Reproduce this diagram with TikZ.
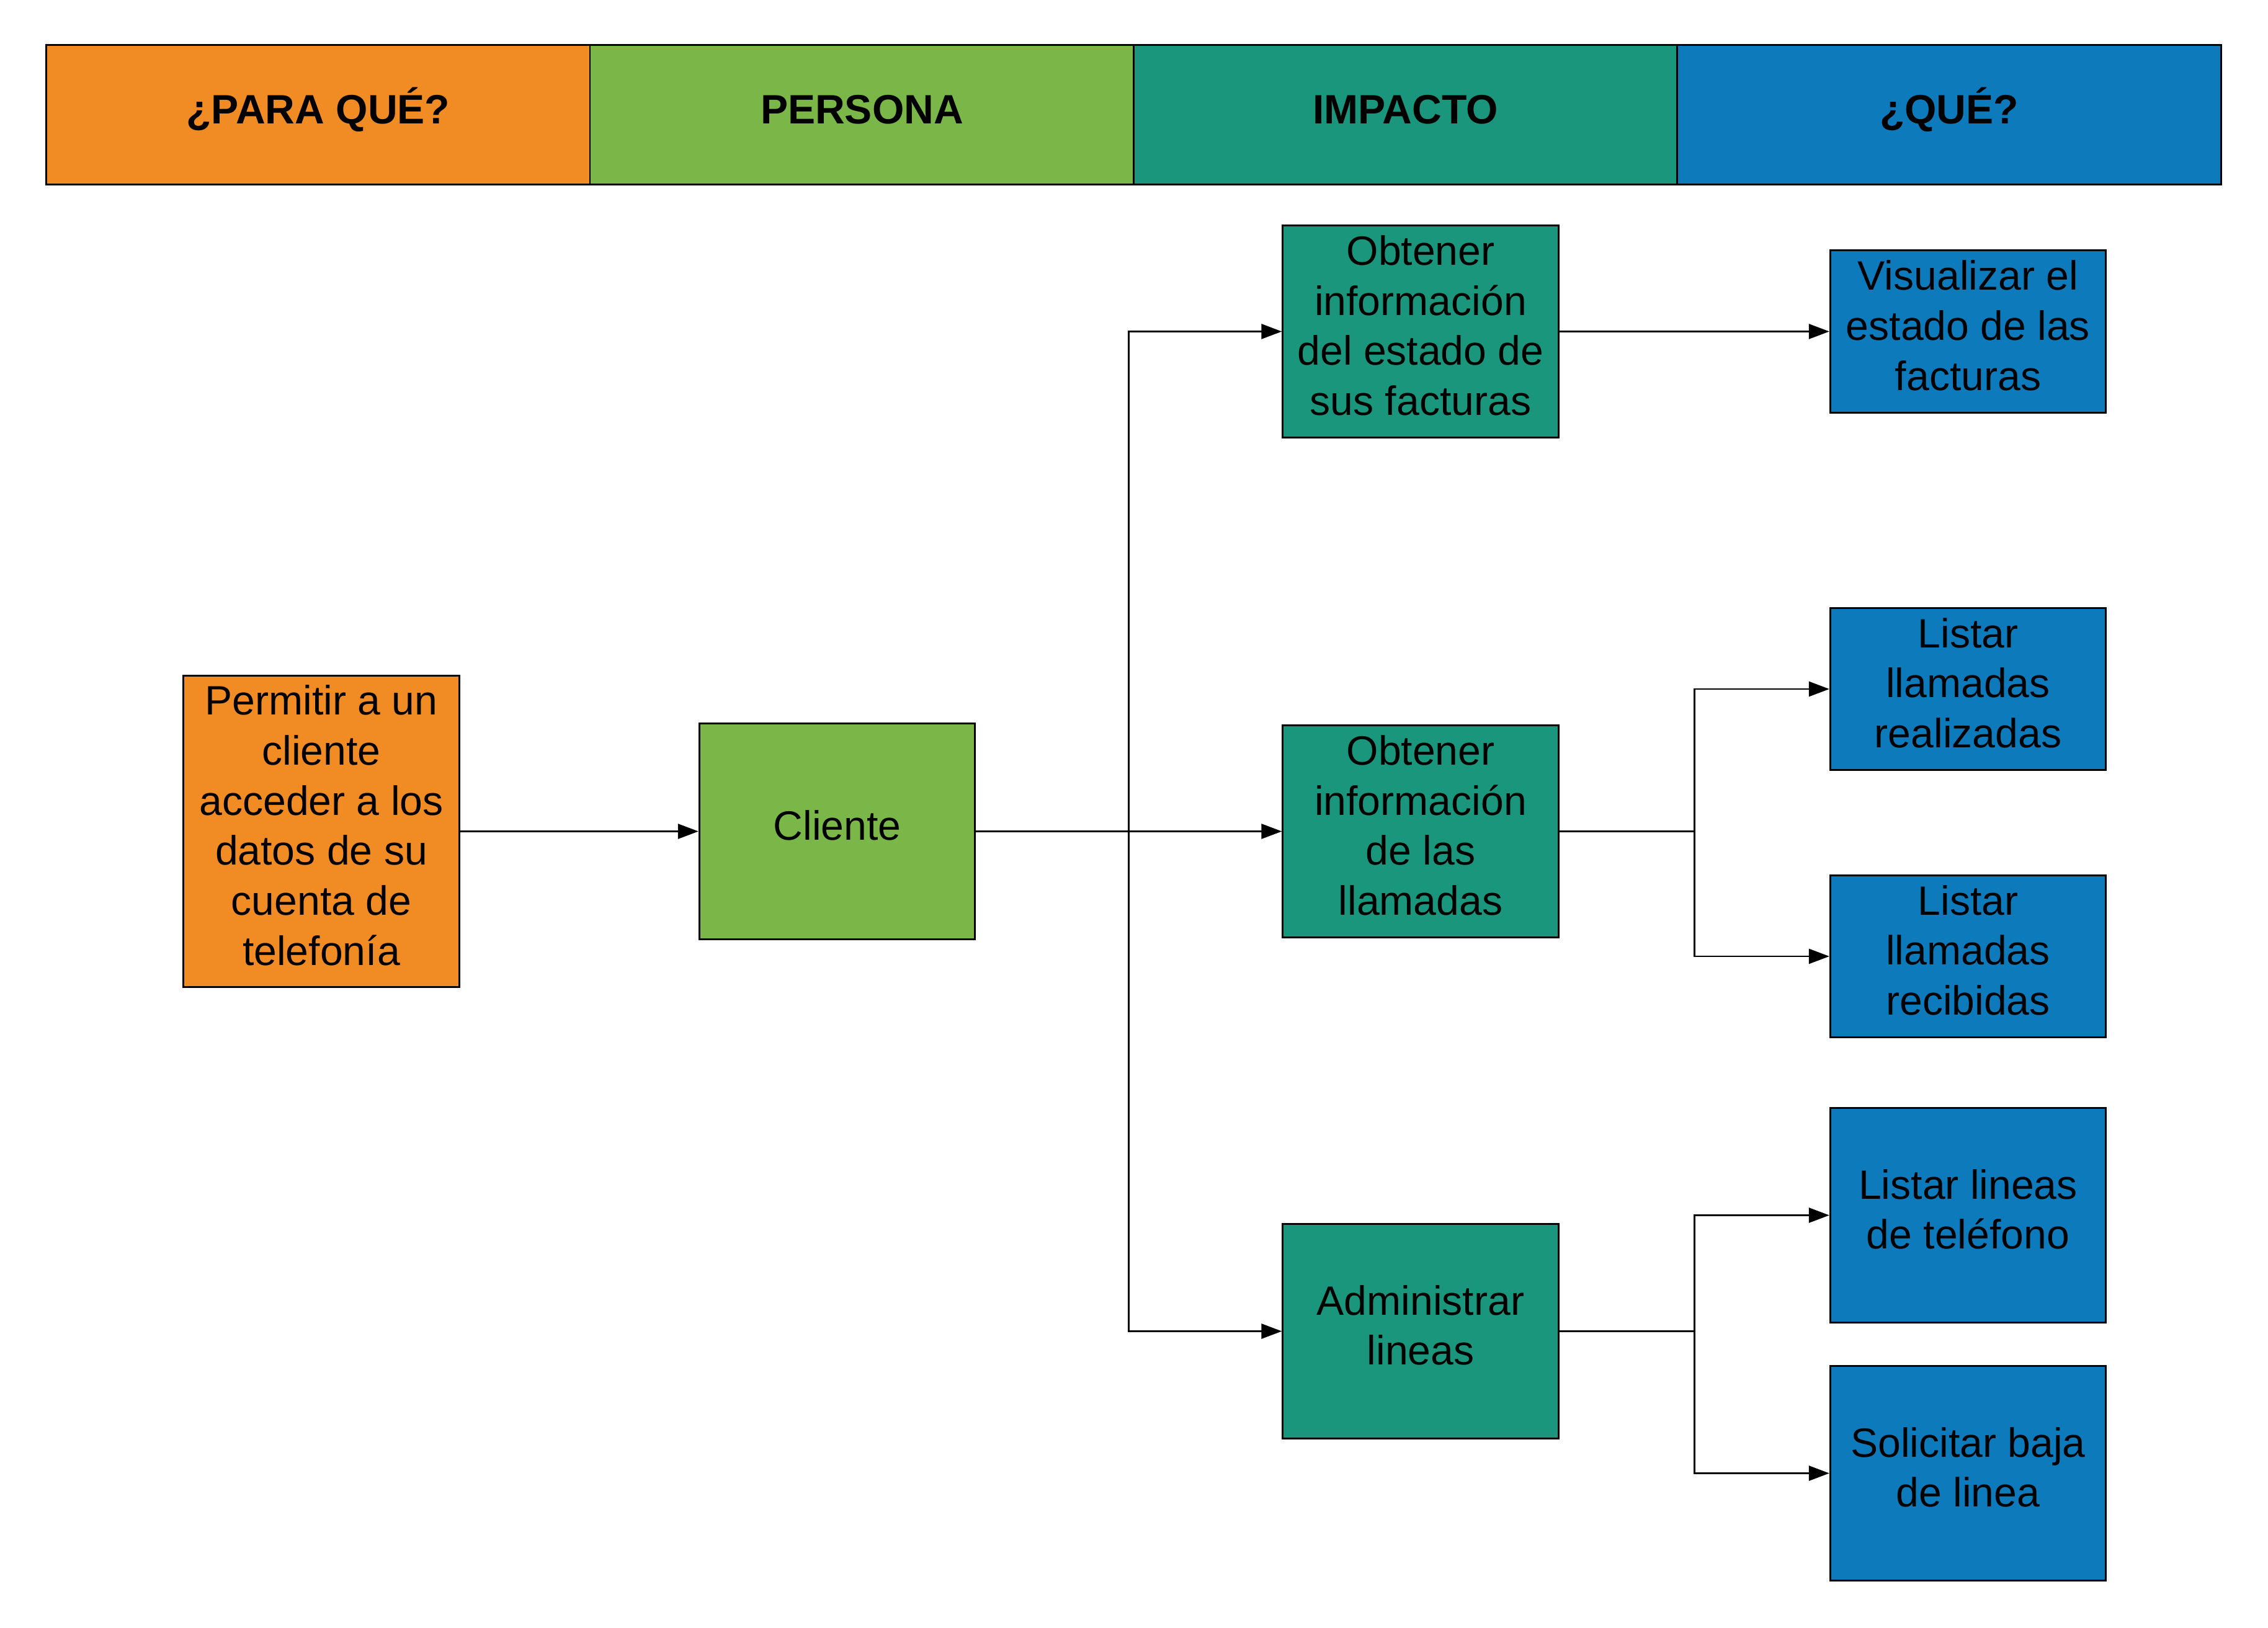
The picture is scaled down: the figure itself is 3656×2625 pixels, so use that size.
\documentclass[tikz,border=0pt]{standalone}
\usepackage{fontspec}
\setmainfont{Liberation Sans}
\usetikzlibrary{arrows.meta}
\definecolor{corange}{RGB}{240,140,35}
\definecolor{cgreen}{RGB}{122,182,72}
\definecolor{cteal}{RGB}{26,150,125}
\definecolor{cblue}{RGB}{13,123,187}
\begin{document}
\begin{tikzpicture}[x=0.01cm,y=-0.01cm,
  box/.style={draw=black, line width=0.85pt, align=center, inner sep=0pt, minimum width=4.44cm, text depth=0.2cm, font=\fontsize{18.8pt}{22.96pt}\selectfont},
  hdr/.style={draw=black, line width=0.85pt, minimum width=8.765cm, minimum height=2.24cm, inner sep=0pt, text height=0.46cm, text depth=0.16cm, font=\fontsize{18.8pt}{22.96pt}\selectfont\bfseries},
  conn/.style={line width=0.85pt},
  arr/.style={conn, -{Triangle[length=3.3mm,width=2.4mm]}}]
\useasboundingbox[fill=white] (0,0) rectangle (3656,2625);
% header
\node[hdr, fill=corange] (h1) at (513,185) {¿PARA QUÉ?};
\node[hdr, fill=cgreen] (h2) at (1389.5,185) {PERSONA};
\node[hdr, fill=cteal] (h3) at (2265.5,185) {IMPACTO};
\node[hdr, fill=cblue] (h4) at (3142,185) {¿QUÉ?};
% boxes
\node[box, fill=corange, minimum height=5.02cm] (o) at (518,1340.5) {Permitir a un\\cliente\\acceder a los\\datos de su\\cuenta de\\telefonía};
\node[box, fill=cgreen, minimum height=3.47cm] (c) at (1349.5,1340.5) {Cliente};
\node[box, fill=cteal, minimum height=3.42cm] (t1) at (2290,534.5) {Obtener\\información\\del estado de\\sus facturas};
\node[box, fill=cteal, minimum height=3.42cm] (t2) at (2290,1340.5) {Obtener\\información\\de las\\llamadas};
\node[box, fill=cteal, minimum height=3.45cm] (t3) at (2290,2146.5) {Administrar\\lineas};
\node[box, fill=cblue, minimum height=2.61cm] (b1) at (3172.5,534.5) {Visualizar el\\estado de las\\facturas};
\node[box, fill=cblue, minimum height=2.60cm] (b2) at (3172.5,1111) {Listar\\llamadas\\realizadas};
\node[box, fill=cblue, minimum height=2.60cm] (b3) at (3172.5,1542) {Listar\\llamadas\\recibidas};
\node[box, fill=cblue, minimum height=3.45cm] (b4) at (3172.5,1959.5) {Listar lineas\\de teléfono};
\node[box, fill=cblue, minimum height=3.45cm] (b5) at (3172.5,2375.5) {Solicitar baja\\de linea};
% connectors
\coordinate (j) at (1819,1340.5);
\coordinate (k2) at (2731,1340.5);
\coordinate (k3) at (2731,2146.5);
\draw[arr] (o.east) -- (c.west);
\draw[arr] (c.east) -- (t2.west);
\draw[arr] (j) |- (t1.west);
\draw[arr] (j) |- (t3.west);
\draw[arr] (t1.east) -- (b1.west);
\draw[conn] (t2.east) -- (k2);
\draw[arr] (k2) |- (b2.west);
\draw[arr] (k2) |- (b3.west);
\draw[conn] (t3.east) -- (k3);
\draw[arr] (k3) |- (b4.west);
\draw[arr] (k3) |- (b5.west);
\end{tikzpicture}
\end{document}
